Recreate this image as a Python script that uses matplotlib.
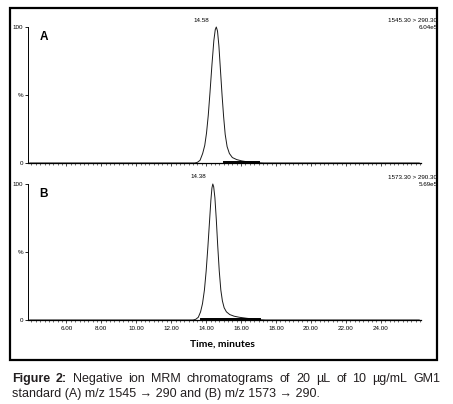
import matplotlib

matplotlib.use("Agg")
import matplotlib.pyplot as plt
from matplotlib.patches import Rectangle
from matplotlib.ticker import FixedLocator, MultipleLocator

W, H, DPI = 453, 404, 100

# chromatogram A: m/z 1545.30 > 290.30
TIME_A = [3.9, 13.35, 13.50, 13.65, 13.80, 13.92, 14.02, 14.12, 14.22, 14.33, 14.44,
          14.52, 14.58, 14.65, 14.73, 14.82, 14.91, 15.00, 15.09, 15.20, 15.33,
          15.50, 15.75, 16.05, 16.40, 16.90, 17.30, 26.2]
INT_A = [0, 0, 0.5, 2, 7, 13, 22, 35, 52, 72, 90,
         98, 100, 97, 86, 68, 50, 34, 21, 12, 7,
         4, 2.5, 1.5, 0.8, 0.3, 0, 0]
BASE_A = ([15.0, 17.0], [0.6, 0.6])

# chromatogram B: m/z 1573.30 > 290.30
TIME_B = [3.9, 13.25, 13.40, 13.55, 13.68, 13.79, 13.90, 14.00, 14.10, 14.19, 14.27,
          14.33, 14.38, 14.43, 14.50, 14.58, 14.66, 14.75, 14.84, 14.93, 15.03,
          15.16, 15.35, 15.60, 15.90, 16.30, 16.70, 17.10, 17.40, 26.2]
INT_B = [0, 0, 0.5, 2, 6, 12, 22, 36, 54, 72, 88,
         97, 100, 98, 90, 74, 55, 36, 22, 14, 9,
         6, 4, 2.8, 2, 1.3, 0.7, 0.2, 0, 0]
BASE_B = ([13.7, 17.1], [0.6, 0.6])

PANELS = [
    ("A", TIME_A, INT_A, BASE_A, "14.58", 14.58, "1545.30 > 290.30", "6.04e5", 163),
    ("B", TIME_B, INT_B, BASE_B, "14.38", 14.38, "1573.30 > 290.30", "5.69e5", 320),
]
X_LABELS = [6, 8, 10, 12, 14, 16, 18, 20, 22, 24]

SMALL = ["Liberation Sans", "DejaVu Sans"]


def fx(px):
    return px / W


def fy(py):
    return 1 - py / H


fig = plt.figure(figsize=(W / DPI, H / DPI), dpi=DPI)
fig.patch.set_facecolor("white")

fig.add_artist(Rectangle((fx(10), fy(360)), 427 / W, 352 / H, transform=fig.transFigure,
                         fill=False, lw=1.6, edgecolor="black"))

for letter, t, y, base, peak_lbl, peak_t, mrm, scale, y0 in PANELS:
    ax = fig.add_axes([fx(28), fy(y0), 393 / W, 136 / H])
    ax.plot(t, y, color="#1a1a1a", lw=0.7, clip_on=False)
    ax.plot(base[0], base[1], color="black", lw=1.4, clip_on=False)
    ax.set_xlim(3.8, 26.3)
    ax.set_ylim(0, 100)
    for s in ["top", "right"]:
        ax.spines[s].set_visible(False)
    ax.spines["left"].set_linewidth(0.7)
    ax.spines["bottom"].set_linewidth(0.9)

    ax.set_yticks([0, 50, 100])
    ax.set_yticklabels(["0", "%", "100"], fontfamily=SMALL)
    ax.tick_params(axis="y", labelsize=4.5, length=2.5, width=0.6, pad=1)

    ax.xaxis.set_major_locator(FixedLocator(X_LABELS))
    ax.xaxis.set_minor_locator(MultipleLocator(0.25))
    ax.tick_params(axis="x", which="major", length=2.5, width=0.5, pad=1.5, labelsize=4.5)
    ax.tick_params(axis="x", which="minor", length=1.5, width=0.4)
    if letter == "B":
        ax.set_xticklabels([f"{v:.2f}" for v in X_LABELS], fontfamily=SMALL)
    else:
        ax.set_xticklabels([])

    # offsets in pixels from the 100 % line
    to_y = lambda px: 100 + px * 100 / 136
    ax.text(4.45, to_y(-9.7), letter, fontsize=8.5, fontweight="bold",
            fontfamily=SMALL, ha="left", va="center")
    ax.text(peak_t - 0.85, to_y(7), peak_lbl, fontsize=4.5, fontfamily=SMALL,
            ha="center", va="center")
    fig.text(fx(437.5), fy(y0 - 142), mrm, fontsize=4.5, fontfamily=SMALL,
             ha="right", va="center")
    fig.text(fx(437.5), fy(y0 - 135.5), scale, fontsize=4.5, fontfamily=SMALL,
             ha="right", va="center")

fig.text(fx(222), fy(344), "Time, minutes", fontsize=7.5, fontweight="bold",
         fontfamily=["Lato", "DejaVu Sans"], ha="center", va="center")

# caption, first line justified between x=12 and x=440
CAP_WORDS = [("Figure", "bold"), ("2:", "bold"), ("Negative", "normal"), ("ion", "normal"),
             ("MRM", "normal"), ("chromatograms", "normal"), ("of", "normal"),
             ("20", "normal"), ("µL", "normal"), ("of", "normal"), ("10", "normal"),
             ("µg/mL", "normal"), ("GM1", "normal")]
CAP_LINE2 = "standard (A) m/z 1545 \u2192 290 and (B) m/z 1573 \u2192 290."
CAP_COLOR = "#231f20"
CAP_SIZE = 9.0

renderer = fig.canvas.get_renderer()
words = []
for w, wt in CAP_WORDS:
    txt = fig.text(0, fy(379), w, fontsize=CAP_SIZE, fontweight=wt, fontfamily=SMALL,
                   color=CAP_COLOR, ha="left", va="center")
    words.append(txt)
widths = [txt.get_window_extent(renderer).width for txt in words]
gap = (428 - sum(widths)) / (len(words) - 1)
x = 12
for txt, wd in zip(words, widths):
    txt.set_x(fx(x))
    x += wd + gap

fig.text(fx(12), fy(394), CAP_LINE2, fontsize=CAP_SIZE, fontfamily=SMALL,
         color=CAP_COLOR, ha="left", va="center")

fig.savefig("out.png", dpi=DPI)
